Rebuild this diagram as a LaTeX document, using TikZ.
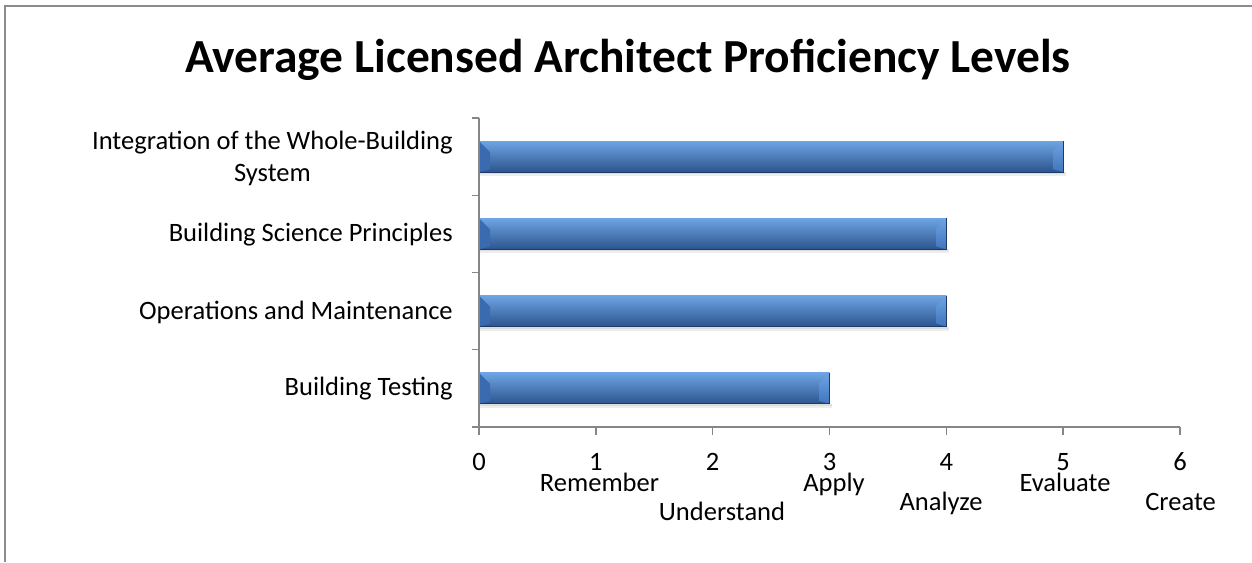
\documentclass[tikz,border=0pt]{standalone}
\usepackage{fontspec}
\setmainfont{Carlito}
\usepackage{xcolor}
\usepackage{tikz}

\definecolor{frameGray}{RGB}{140,140,140}
\definecolor{axisGray}{RGB}{134,134,134}
\definecolor{barLight}{RGB}{110,164,228}
\definecolor{barMid}{RGB}{64,116,188}
\definecolor{barDark}{RGB}{44,84,142}
\definecolor{barEdge}{RGB}{30,58,102}
\definecolor{barSide}{RGB}{58,106,176}

\tikzset{
  framestyle/.style={draw=frameGray, line width=1.5pt},
  axisline/.style={draw=axisGray, line width=1.1pt},
  titletext/.style={anchor=base, inner sep=0pt, font=\fontsize{35.6}{42}\selectfont\bfseries},
  catlabel/.style={anchor=base east, inner sep=0pt, align=center, font=\fontsize{19.9}{23.8}\selectfont},
  ticklabel/.style={anchor=base, inner sep=0pt, font=\fontsize{19.9}{23.8}\selectfont},
  barbody/.style={top color=barLight, middle color=barMid, bottom color=barDark},
  barshadow/.style={fill=black, opacity=0.07},
  barbevel/.style={fill=barSide},
  barend/.style={top color=barLight, bottom color=barMid},
  baredge/.style={draw=barEdge, line width=0.8pt}
}

\begin{document}
\begin{tikzpicture}[x=0.75pt, y=-0.75pt]
			% 定义边框
			\useasboundingbox (0,0) rectangle (1252,562);
			\coordinate (frameBL) at (4.7,562);
			\coordinate (frameTR) at (1252,5.5);
			\draw[framestyle] (frameBL) |- (frameTR);
			% 标题
			\node[titletext] (title) at (628,72.7) {Average Licensed Architect Proficiency Levels};
			% 定义坐标轴
			\coordinate (ori) at (479,427);
			\coordinate (xend) at (1180,427);
			\coordinate (ytop) at (479,118);
			% 划条形
			\foreach \v/\yc [count=\i] in {5/156.6, 4/233.9, 4/311.1, 3/388.4} {
				\pgfmathsetmacro{\xe}{479+116.83*\v}
				\coordinate (bar\i-sw) at (479,\yc+15.5);
				\coordinate (bar\i-ne) at (\xe,\yc-15.5);
				\coordinate (bar\i-se) at (\xe,\yc+15.5);
				\coordinate (bar\i-nw) at (479,\yc-15.5);
				% 阴影
				\fill[barshadow] ([xshift=1pt]bar\i-sw) rectangle ([xshift=2pt,yshift=-3pt]bar\i-se);
				\fill[barshadow] ([xshift=1pt]bar\i-sw) rectangle ([xshift=1.5pt,yshift=-1.5pt]bar\i-se);
				\shade[barbody] (bar\i-sw) rectangle (bar\i-ne);
				% 斜面
				\fill[barbevel] (bar\i-nw) -- ++(11,11) -- ([shift={(11,-3)}]bar\i-sw) -- (bar\i-sw) -- cycle;
				\shade[barend] (bar\i-ne) -- ++(-10,10) -- ([shift={(-10,-3)}]bar\i-se) -- (bar\i-se) -- cycle;
				\draw[baredge] (bar\i-ne) -- (bar\i-se) -- (bar\i-sw);
			}
			% 划坐标轴
			\draw[axisline] (ytop) -- (ori) -- (xend);
			\foreach \k in {0,...,6}
				\draw[axisline] (479+116.83*\k,427) -- ++(0,7.5);
			\foreach \k in {0,...,4}
				\draw[axisline] (479,118+77.25*\k) -- ++(-7.5,0);
			% 刻度标签
			\foreach \k in {0,...,6}
				\node[ticklabel] (num\k) at (479+116.83*\k,470) {\k};
			\foreach \name/\x/\y in {Remember/599.5/491.7, Understand/722/520, Apply/834/491, Analyze/941/510.7, Evaluate/1065/491.7, Create/1180.5/510.7}
				\node[ticklabel] (\name) at (\x,\y) {\name};
			% 类别标签
			\node[catlabel] (catInt) at (453,181.7) {Integration of the Whole-Building\\System};
			\node[catlabel] (catSci) at (453,241.7) {Building Science Principles};
			\node[catlabel] (catOps) at (453,319.3) {Operations and Maintenance};
			\node[catlabel] (catTest) at (453,395) {Building Testing};
		\end{tikzpicture}
\end{document}
